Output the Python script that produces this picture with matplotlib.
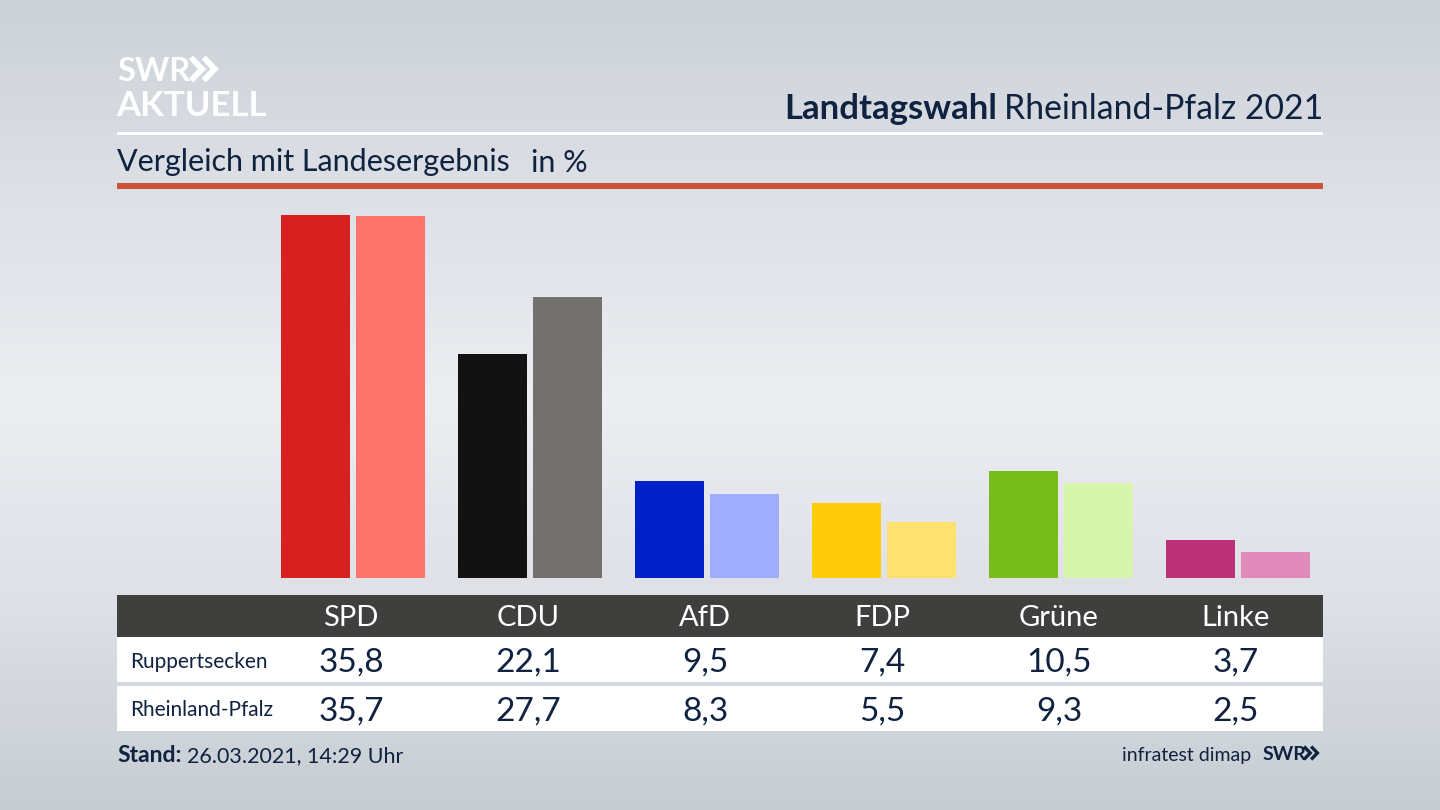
import numpy as np
import matplotlib
matplotlib.use("Agg")
import matplotlib.pyplot as plt
from matplotlib.patches import Rectangle

parties = ["SPD", "CDU", "AfD", "FDP", "Grüne", "Linke"]
ruppertsecken = [35.8, 22.1, 9.5, 7.4, 10.5, 3.7]
rheinland_pfalz = [35.7, 27.7, 8.3, 5.5, 9.3, 2.5]
colors_local = ["#d7201f", "#121212", "#0021c8", "#ffcd0a", "#78bc1b", "#bb3076"]
colors_state = ["#ff736d", "#72716e", "#9fadff", "#ffe172", "#d5f6ab", "#e08bba"]
row_names = ["Ruppertsecken", "Rheinland-Pfalz"]

plt.rcParams["font.family"] = ["Lato", "DejaVu Sans"]
W, H = 1440, 810
NAVY = "#0f2240"
fig = plt.figure(figsize=(14.4, 8.1), dpi=100)

# Background gradient
bg = fig.add_axes([0, 0, 1, 1], zorder=0)
bg.axis("off")
stops_y = [0, 200, 400, 600, 810]
stops_c = [[0.80, 0.82, 0.85], [0.87, 0.88, 0.90], [0.925, 0.933, 0.95], [0.87, 0.88, 0.90], [0.78, 0.80, 0.83]]
yy = np.arange(H)
grad = np.stack([np.interp(yy, stops_y, [c[i] for c in stops_c]) for i in range(3)], axis=1)[:, None, :]
bg.imshow(grad, aspect="auto", extent=[0, W, H, 0], zorder=0)
bg.set_xlim(0, W)
bg.set_ylim(H, 0)

# Furniture in pixel coordinates
def band(x0, y0, x1, y1, color):
    bg.add_patch(Rectangle((x0, y0), x1 - x0, y1 - y0, facecolor=color, edgecolor="none", zorder=1))

band(117, 132, 1323, 135, "white")
band(117, 183, 1323, 189, "#cd523a")
band(117, 595, 1323, 637, "#3f3f3d")
band(117, 637, 1323, 682, "white")
band(117, 686, 1323, 731, "white")

def txt(x, y, s, size, color=NAVY, ha="left", weight="normal", **kw):
    return bg.text(x, y, s, fontsize=size, color=color, ha=ha, va="center_baseline", fontweight=weight, zorder=3, **kw)

def chevrons(x, yc, h, lw, color):
    """Two right-pointing chevrons starting at x, centred on yc."""
    for dx in (0, h * 0.55):
        bg.plot([x + dx, x + dx + h * 0.48, x + dx], [yc - h / 2, yc, yc + h / 2],
                color=color, lw=lw, solid_joinstyle="miter", solid_capstyle="butt", zorder=3)

# Logo
txt(117, 69, "SWR", 23.5, color="white", weight="bold")
chevrons(191, 69, 23, 4.2, "white")
txt(116, 103, "AKTUELL", 25, color="white", weight="bold")

# Title
txt(1323, 106, "Rheinland-Pfalz 2021", 24.3, ha="right")
txt(997, 106, "Landtagswahl", 25, ha="right", weight="bold")
txt(117, 160, "Vergleich mit Landesergebnis", 22)
txt(531, 160, "in %", 22)

# Table
centers = [351 + 177 * i for i in range(len(parties))]
for i, p in enumerate(parties):
    txt(centers[i], 616, p, 21, color="white", ha="center")
    txt(centers[i], 660, f"{ruppertsecken[i]:.1f}".replace(".", ","), 24, ha="center")
    txt(centers[i], 709, f"{rheinland_pfalz[i]:.1f}".replace(".", ","), 24, ha="center")
txt(130.5, 660, row_names[0], 15)
txt(130.5, 708, row_names[1], 15)

# Footer
txt(117, 754, "Stand:", 16.5, weight="bold")
txt(187, 754, "26.03.2021, 14:29 Uhr", 15.5)
txt(1251, 754, "infratest dimap", 14, ha="right")
txt(1263, 753, "SWR", 14, weight="bold")
chevrons(1304, 753, 13, 2.4, NAVY)

# Bars through a data axes: baseline y=577.5px, 10.12 px per percentage point
px_per_unit = 10.12
top_px = 197
base_px = 577.5
ax = fig.add_axes([117 / W, 1 - base_px / H, (1323 - 117) / W, (base_px - top_px) / H], zorder=2)
ax.patch.set_alpha(0)
ax.axis("off")
ax.set_ylim(0, (base_px - top_px) / px_per_unit)
step = 177
ax.set_xlim((117 - 353) / step, (1323 - 353) / step)
x = np.arange(len(parties))
bw = 69 / step
off = 37.5 / step
ax.bar(x - off, ruppertsecken, width=bw, color=colors_local, linewidth=0)
ax.bar(x + off, rheinland_pfalz, width=bw, color=colors_state, linewidth=0)

fig.savefig("out.png", dpi=100)
